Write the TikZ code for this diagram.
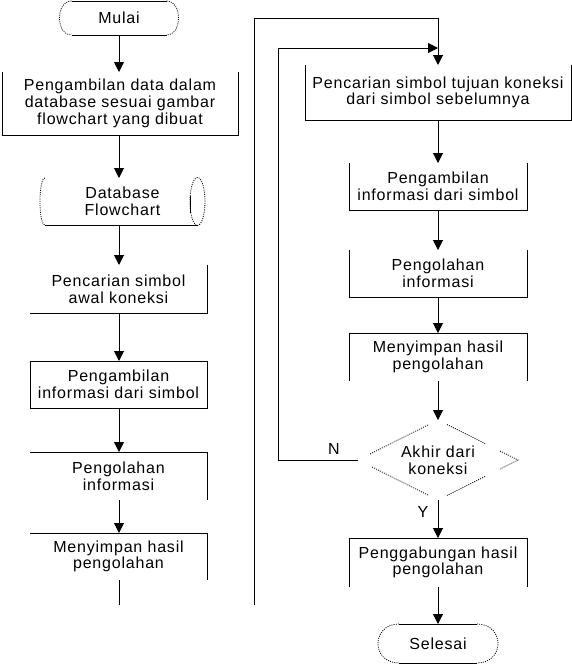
\documentclass[tikz,border=0pt]{standalone}
\usepackage{fontspec}
\setmainfont{Liberation Sans}[LetterSpace=5]
\usetikzlibrary{arrows.meta,calc}
\begin{document}
\begin{tikzpicture}[x=1pt,y=-1pt,
  every node/.style={font=\fontsize{16}{16.7}\selectfont, align=center, inner sep=0pt, outer sep=0pt},
  ln/.style={line width=1pt},
  dot/.style={line width=0.8pt, dash pattern=on 1pt off 1.2pt},
  arr/.style={line width=1pt, -{Triangle[length=10pt,width=10pt]}},
  blk/.style n args={2}{minimum width=#1, minimum height=#2}
]
\useasboundingbox (0,0) rectangle (572,670);

% ---------- left column ----------
\node[blk={119pt}{34pt}] (T1) at (119,18) {Mulai};
\node[blk={236pt}{63pt}] (L1) at (120,103.5) {Pengambilan data dalam\\database sesuai gambar\\flowchart yang dibuat};
\node[blk={165pt}{47pt}] (DB) at (122.5,201.5) {Database\\Flowchart};
\node[blk={177pt}{48pt}] (L3) at (118.5,289) {Pencarian simbol\\awal koneksi};
\node[blk={177pt}{47pt}] (L4) at (118.5,384.5) {Pengambilan\\informasi dari simbol};
\node[blk={177pt}{48pt}] (L5) at (118.5,476) {Pengolahan\\informasi};
\node[blk={177pt}{47pt}] (L6) at (118.5,556.5) {Menyimpan hasil\\pengolahan};
\coordinate (E1) at (119,605);
\coordinate (S2) at (254,605);

% ---------- right column ----------
\node[blk={266pt}{55pt}] (R1) at (438,92.5) {Pencarian simbol tujuan koneksi\\dari simbol sebelumnya};
\node[blk={178pt}{47pt}] (R2) at (438,186.5) {Pengambilan\\informasi dari simbol};
\node[blk={178pt}{47pt}] (R3) at (438,273.5) {Pengolahan\\informasi};
\node[blk={178pt}{48pt}] (R4) at (438,357) {Menyimpan hasil\\pengolahan};
\node[blk={160pt}{80pt}] (D) at (438,460) {Akhir dari\\koneksi};
\node[blk={178pt}{49pt}] (R5) at (438,562.5) {Penggabungan hasil\\pengolahan};
\node[blk={120pt}{39pt}] (T2) at (438,643.5) {Selesai};
\node (nlab) at (334,449) {N};
\node (ylab) at (423,512) {Y};

% ---------- shapes ----------
% Mulai terminator
\draw[ln] ($(T1.north west)+(12,0)$) -- ($(T1.north east)+(-12,0)$);
\draw[ln] ($(T1.south west)+(12,0)$) -- ($(T1.south east)+(-12,0)$);
\draw[dot] ($(T1.north west)+(12,0)$) .. controls ($(T1.north west)+(-4,0)$) and ($(T1.south west)+(-4,0)$) .. ($(T1.south west)+(12,0)$);
\draw[dot] ($(T1.north east)+(-12,0)$) .. controls ($(T1.north east)+(4,0)$) and ($(T1.south east)+(4,0)$) .. ($(T1.south east)+(-12,0)$);
% Selesai terminator
\draw[ln] ($(T2.north west)+(21,0)$) -- ($(T2.north east)+(-21,0)$);
\draw[ln] ($(T2.south west)+(21,0)$) -- ($(T2.south east)+(-21,0)$);
\draw[dot] ($(T2.north west)+(21,0)$) .. controls ($(T2.north west)+(-7,0)$) and ($(T2.south west)+(-7,0)$) .. ($(T2.south west)+(21,0)$);
\draw[dot] ($(T2.north east)+(-21,0)$) .. controls ($(T2.north east)+(7,0)$) and ($(T2.south east)+(7,0)$) .. ($(T2.south east)+(-21,0)$);
% database
\draw[ln] ($(DB.south west)+(5,0)$) -- ($(DB.south east)+(-7.5,0)$);
\draw[dot] ($(DB.north west)+(5,0)$) .. controls ($(DB.north west)+(-1.7,0)$) and ($(DB.south west)+(-1.7,0)$) .. ($(DB.south west)+(5,0)$);
\draw[dot] ($(DB.east)+(-7.5,0)$) ellipse [x radius=7.5pt, y radius=24pt];
\draw[ln] ($(DB.east)+(-15,-6)$) -- ($(DB.east)+(-15,11)$);
% open boxes
\draw[ln] (L1.north west) -- (L1.south west) -- (L1.south east) -- (L1.north east);
\draw[ln] (L3.north east) -- (L3.south east) -- (L3.south west);
\draw[ln] (L4.north west) rectangle (L4.south east);
\draw[ln] (L5.north west) -- (L5.north east) -- (L5.south east);
\draw[ln] (L6.north west) -- (L6.north east) -- (L6.south east);
\draw[ln] (R1.north west) -- (R1.south west) -- (R1.south east) -- (R1.north east);
\draw[ln] (R2.north west) -- (R2.south west) -- (R2.south east) -- (R2.north east);
\draw[ln] (R3.north west) -- (R3.south west) -- (R3.south east) -- (R3.north east);
\draw[ln] (R4.south west) -- (R4.north west) -- (R4.north east) -- (R4.south east);
\draw[ln] (R5.south west) -- (R5.north west) -- (R5.north east) -- (R5.south east);
% decision
\draw[dot] ($(D.center)+(-10,-35)$) -- ($(D.center)+(-68,-6)$);
\draw[dot] ($(D.center)+(-66,7)$) -- ($(D.center)+(-10,35)$);
\draw[dot] ($(D.center)+(9,-35.5)$) -- ($(D.center)+(47,-16.5)$);
\draw[dot] ($(D.center)+(62,-9)$) -- ($(D.center)+(80,0)$) -- ($(D.center)+(62,9)$);
\draw[dot] ($(D.center)+(47,16.5)$) -- ($(D.center)+(9,35.5)$);

% ---------- connectors ----------
\draw[arr] (T1.south) -- (T1.south |- L1.north);
\draw[arr] (T1.south |- L1.south) -- (T1.south |- DB.north);
\draw[arr] (T1.south |- DB.south) -- (T1.south |- L3.north);
\draw[arr] (T1.south |- L3.south) -- (T1.south |- L4.north);
\draw[arr] (T1.south |- L4.south) -- (T1.south |- L5.north);
\draw[arr] (T1.south |- L5.south) -- (T1.south |- L6.north);
\draw[ln] (T1.south |- L6.south) -- (E1);
\draw[arr] (S2) |- ($(R1.north)+(0,-47)$) -- (R1.north);
\draw[arr] (R1.south) -- (R2.north);
\draw[arr] (R2.south) -- (R3.north);
\draw[arr] (R3.south) -- (R4.north);
\draw[arr] (R4.south) -- (D.north);
\draw[arr] (D.south) -- (R5.north);
\draw[arr] (R5.south) -- (T2.north);
\draw[arr] (D.west) -- ++(-80,0) |- ($(R1.north)+(0,-17)$);
\end{tikzpicture}
\end{document}
